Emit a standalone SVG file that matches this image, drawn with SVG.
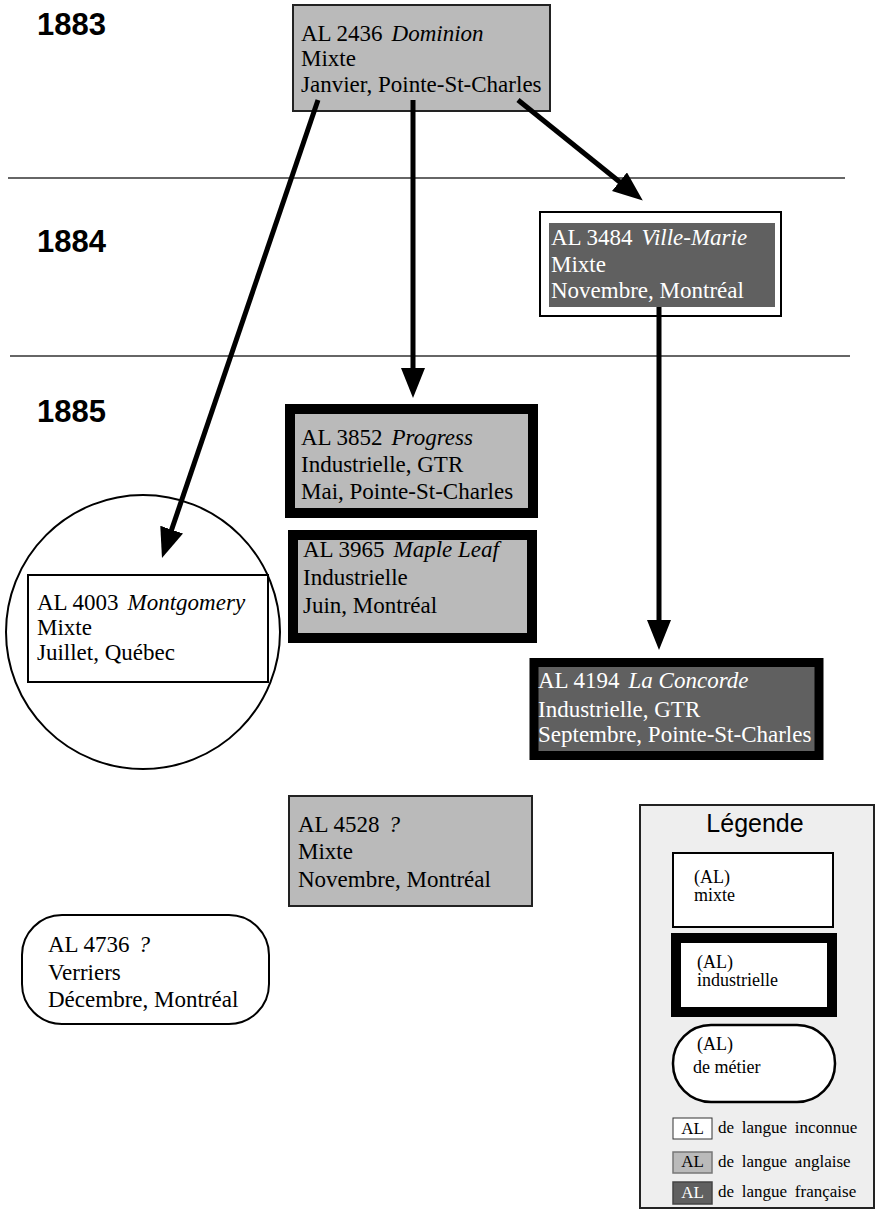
<svg xmlns="http://www.w3.org/2000/svg" width="875" height="1215" viewBox="0 0 875 1215">
<style>
.t{font-family:"Liberation Serif","Times New Roman",serif;font-size:23px;fill:#000}
.w{fill:#fff}
.i{font-style:italic}
.yr{font-family:"Liberation Sans",Arial,sans-serif;font-weight:bold;font-size:31px;fill:#000}
.lg{font-family:"Liberation Serif","Times New Roman",serif;font-size:18px;fill:#000}
.ls{font-family:"Liberation Serif","Times New Roman",serif;font-size:17px;fill:#000;word-spacing:3.5px}
.gray{fill:#bababa}
.dark{fill:#606060}
.thin{stroke:#222;stroke-width:2}
.thick{stroke:#000;stroke-width:10}
.conn{stroke:#000;stroke-width:5;fill:none}
.sep{stroke:#333;stroke-width:1.3}
</style>
<defs>
<marker id="ah" viewBox="0 0 30 24" refX="2" refY="12" markerWidth="30" markerHeight="24" markerUnits="userSpaceOnUse" orient="auto">
<path d="M0,0 L30,12 L0,24 z" fill="#000"/>
</marker>
</defs>

<g id="separators">
<line class="sep" x1="8" y1="178" x2="845" y2="178"/>
<line class="sep" x1="10" y1="356" x2="850" y2="356"/>
</g>

<g id="years">
<text class="yr" x="37" y="35">1883</text>
<text class="yr" x="37" y="252">1884</text>
<text class="yr" x="37" y="422">1885</text>
</g>

<g id="n2436">
<rect class="gray thin" x="293" y="5" width="257" height="106"/>
<text class="t" x="301" y="41">AL 2436<tspan class="i" dx="9">Dominion</tspan></text>
<text class="t" x="301" y="66">Mixte</text>
<text class="t" x="301" y="92">Janvier, Pointe-St-Charles</text>
</g>

<g id="n3484">
<rect x="540" y="212" width="241" height="104" fill="#fff" stroke="#000" stroke-width="2"/>
<rect class="dark" x="549" y="223" width="226" height="84"/>
<text class="t w" x="551" y="245">AL 3484<tspan class="i" dx="9">Ville-Marie</tspan></text>
<text class="t w" x="551" y="272">Mixte</text>
<text class="t w" x="551" y="298">Novembre, Montréal</text>
</g>

<g id="n3852">
<rect class="gray thick" x="290" y="409" width="243" height="104"/>
<text class="t" x="301" y="445">AL 3852<tspan class="i" dx="9">Progress</tspan></text>
<text class="t" x="301" y="472">Industrielle, GTR</text>
<text class="t" x="301" y="499">Mai, Pointe-St-Charles</text>
</g>

<g id="n3965">
<rect class="gray thick" x="293" y="535" width="239" height="103"/>
<text class="t" x="303" y="557">AL 3965<tspan class="i" dx="9">Maple Leaf</tspan></text>
<text class="t" x="303" y="585">Industrielle</text>
<text class="t" x="303" y="613">Juin, Montréal</text>
</g>

<g id="n4003">
<circle cx="143" cy="632" r="137" fill="#fff" stroke="#000" stroke-width="2"/>
<rect x="28" y="575" width="240" height="107" fill="#fff" stroke="#000" stroke-width="2"/>
<text class="t" x="37" y="610">AL 4003<tspan class="i" dx="9">Montgomery</tspan></text>
<text class="t" x="37" y="635">Mixte</text>
<text class="t" x="37" y="660">Juillet, Québec</text>
</g>

<g id="n4194">
<rect class="dark" x="534" y="662.5" width="285" height="93" stroke="#000" stroke-width="9"/>
<text class="t w" x="538" y="688">AL 4194<tspan class="i" dx="9">La Concorde</tspan></text>
<text class="t w" x="538" y="717">Industrielle, GTR</text>
<text class="t w" x="538" y="742">Septembre, Pointe-St-Charles</text>
</g>

<g id="n4528">
<rect class="gray thin" x="289" y="796" width="243" height="110"/>
<text class="t" x="298" y="832">AL 4528<tspan class="i" dx="9">?</tspan></text>
<text class="t" x="298" y="859">Mixte</text>
<text class="t" x="298" y="887">Novembre, Montréal</text>
</g>

<g id="n4736">
<rect x="22" y="915" width="247" height="109" rx="40" ry="40" fill="#fff" stroke="#000" stroke-width="2"/>
<text class="t" x="48" y="952">AL 4736<tspan class="i" dx="9">?</tspan></text>
<text class="t" x="48" y="980">Verriers</text>
<text class="t" x="48" y="1007">Décembre, Montréal</text>
</g>

<g id="legend">
<rect x="640" y="805" width="234" height="403" fill="#eeeeee" stroke="#222" stroke-width="2"/>
<text x="755" y="832" text-anchor="middle" font-family="Liberation Sans, Arial, sans-serif" font-size="25" fill="#000">Légende</text>
<rect x="673" y="853" width="160" height="74" fill="#fff" stroke="#000" stroke-width="2"/>
<text class="lg" x="694" y="883">(AL)</text>
<text class="lg" x="694" y="901">mixte</text>
<rect x="676" y="938" width="156" height="74" fill="#fff" stroke="#000" stroke-width="10"/>
<text class="lg" x="697" y="968">(AL)</text>
<text class="lg" x="697" y="986">industrielle</text>
<rect x="673" y="1025" width="162" height="77" rx="38" ry="38" fill="#fff" stroke="#000" stroke-width="2.5"/>
<text class="lg" x="697" y="1050">(AL)</text>
<text class="lg" x="693" y="1073">de métier</text>
<rect x="673" y="1118" width="39" height="21" fill="#fff" stroke="#333" stroke-width="1"/>
<text class="ls" x="692.5" y="1134" text-anchor="middle">AL</text>
<text class="ls" x="718" y="1133">de langue inconnue</text>
<rect x="673" y="1152" width="39" height="21" fill="#bababa" stroke="#777" stroke-width="1.5"/>
<text class="ls" x="692.5" y="1167" text-anchor="middle">AL</text>
<text class="ls" x="718" y="1167">de langue anglaise</text>
<rect x="673" y="1182" width="39" height="22" fill="#606060" stroke="#444" stroke-width="1.5"/>
<text class="ls" x="692.5" y="1198" text-anchor="middle" style="fill:#fff">AL</text>
<text class="ls" x="718" y="1197">de langue française</text>
</g>

<g id="connectors">
<line class="conn" x1="318" y1="100" x2="171" y2="531.5" marker-end="url(#ah)"/>
<line class="conn" x1="413" y1="100" x2="413" y2="370" marker-end="url(#ah)"/>
<line class="conn" x1="518" y1="100" x2="621" y2="183" marker-end="url(#ah)"/>
<line class="conn" x1="659" y1="307" x2="659" y2="622" marker-end="url(#ah)"/>
</g>
</svg>
